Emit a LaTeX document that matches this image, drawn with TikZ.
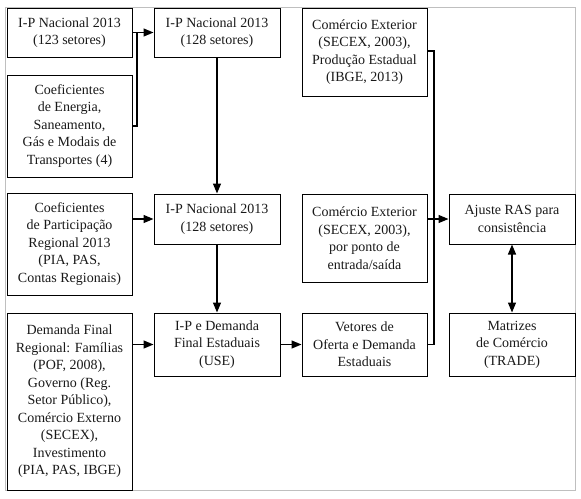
\documentclass[tikz,border=0pt]{standalone}
\usepackage{fontspec}
\setmainfont{Liberation Serif}
\usetikzlibrary{arrows.meta}
\begin{document}
\begin{tikzpicture}[x=1pt,y=-1pt,
  box/.style={draw, line width=1pt, align=center, inner sep=0pt,
    font=\fontsize{14}{17.5}\selectfont, text=black!90},
  conn/.style={line width=1.3pt},
  arr/.style={conn, -{Triangle[length=10pt,width=8pt]}},
  darr/.style={conn, {Triangle[length=10pt,width=8pt]}-{Triangle[length=10pt,width=8pt]}}]
\useasboundingbox (0,0) rectangle (581,498);
\draw[black!25, line width=1pt] (5,7) rectangle (575,490);
\node[box, minimum width=125pt, minimum height=49pt] (n1) at (69.5,32.5) {I-P Nacional 2013\\(123 setores)};
\node[box, minimum width=125pt, minimum height=102pt] (n2) at (69.5,126) {Coeficientes\\de Energia,\\Saneamento,\\Gás e Modais de\\Transportes (4)};
\node[box, minimum width=126pt, minimum height=49pt] (n3) at (217,32.5) {I-P Nacional 2013\\(128 setores)};
\node[box, minimum width=125pt, minimum height=88pt] (n4) at (364.5,52) {Comércio Exterior\\(SECEX, 2003),\\Produção Estadual\\(IBGE, 2013)};
\node[box, minimum width=125pt, minimum height=102pt] (n5) at (69.5,244) {Coeficientes\\de Participação\\Regional 2013\\(PIA, PAS,\\Contas Regionais)};
\node[box, minimum width=126pt, minimum height=50pt] (n6) at (217,219) {I-P Nacional 2013\\(128 setores)};
\node[box, minimum width=125pt, minimum height=88pt] (n7) at (364.5,238) {Comércio Exterior\\(SECEX, 2003),\\por ponto de\\entrada/saída};
\node[box, minimum width=126pt, minimum height=50pt] (n8) at (512,219) {Ajuste RAS para\\consistência};
\node[box, minimum width=125pt, minimum height=177pt] (n9) at (69.5,401.5) {Demanda Final\\Regional: Famílias\\(POF, 2008),\\Governo (Reg.\\Setor Público),\\Comércio Externo\\(SECEX),\\Investimento\\(PIA, PAS, IBGE)};
\node[box, minimum width=126pt, minimum height=63pt] (n10) at (217,344.5) {I-P e Demanda\\Final Estaduais\\(USE)};
\node[box, minimum width=125pt, minimum height=63pt] (n11) at (364.5,344.5) {Vetores de\\Oferta e Demanda\\Estaduais};
\node[box, minimum width=126pt, minimum height=63pt] (n12) at (512,344.5) {Matrizes\\de Comércio\\(TRADE)};
\coordinate (j1) at (137,32.5);
\coordinate (j2) at (434,51);
% connectors
\draw[arr] (n1.east) -- (n3.west);
\draw[conn] (n2.east) -- (n2.east -| j1) -- (j1);
\draw[arr] (n3.south) -- (n6.north);
\draw[arr] (n5.east |- n6.west) -- (n6.west);
\draw[arr] (n6.south) -- (n10.north);
\draw[arr] (n9.east |- n10.west) -- (n10.west);
\draw[arr] (n10.east) -- (n11.west);
\draw[conn] (n4.east |- j2) -- (j2) -- (j2 |- n11.east) -- (n11.east);
\draw[arr] (n7.east |- n8.west) -- (n8.west);
\draw[darr] (n8.south) -- (n12.north);
\end{tikzpicture}
\end{document}
